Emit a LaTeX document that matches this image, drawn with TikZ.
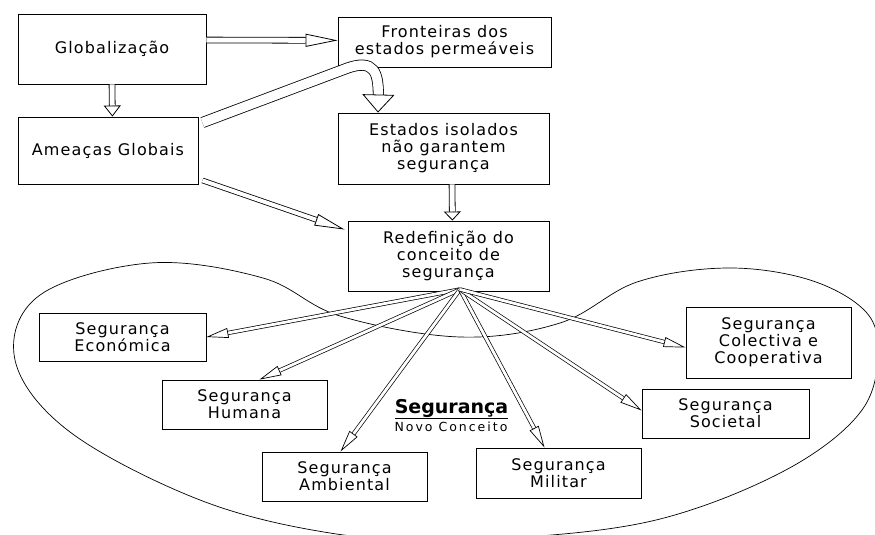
\documentclass[tikz,border=0pt]{standalone}
\usepackage{fontspec}
\setmainfont{DejaVu Sans}[LetterSpace=7]
\newfontfamily\ncfont{DejaVu Sans}[LetterSpace=16]
\newfontfamily\segfont{DejaVu Sans Bold}
\usetikzlibrary{arrows.meta}
\tikzset{
  box/.style={draw, line width=0.9pt, fill=white, inner sep=0pt, align=center,
    font=\fontsize{16}{17}\selectfont},
  dbl/.style={draw, line width=0.8pt, double=white, double distance=#1},
  blobline/.style={draw, line width=0.7pt},
}
\begin{document}
\begin{tikzpicture}[x=1pt,y=-1pt]
\useasboundingbox (0,0) rectangle (875,535);

% blob
\draw[blobline] plot[smooth cycle, tension=0.6] coordinates {
 (263,278) (340,316) (460,337) (560,323) (637,282) (727,268) (810,280)
 (866,312) (878,355) (862,410) (800,462) (700,507) (600,530) (450,540)
 (330,533) (200,500) (70,432) (15,360) (40,295) (150,263)};

% boxes
\node[box, minimum width=188pt, minimum height=70pt] (glob) at (112,49) {Globalização};
\node[box, minimum width=180pt, minimum height=67pt] (amea) at (108,150.5) {Ameaças Globais};
\node[box, minimum width=213pt, minimum height=50pt] (fron) at (444.5,42) {Fronteiras dos\\estados permeáveis};
\node[box, minimum width=211pt, minimum height=71pt] (esta) at (443.5,148.5) {Estados isolados\\não garantem\\segurança};
\node[box, minimum width=201pt, minimum height=70pt] (rede) at (448.5,256) {Redefinição do\\conceito de\\segurança};
\node[box, minimum width=167pt, minimum height=48pt] (econ) at (122.5,337) {Segurança\\Económica};
\node[box, minimum width=165pt, minimum height=49pt] (huma) at (244.5,404.5) {Segurança\\Humana};
\node[box, minimum width=165pt, minimum height=49pt] (ambi) at (344.5,476.5) {Segurança\\Ambiental};
\node[box, minimum width=165pt, minimum height=71pt] (cole) at (768.5,342.5) {Segurança\\Colectiva e\\Cooperativa};
\node[box, minimum width=167pt, minimum height=49pt] (soci) at (725.5,413.5) {Segurança\\Societal};
\node[box, minimum width=165pt, minimum height=50pt] (mili) at (558.5,473) {Segurança\\Militar};

\node[anchor=base, inner sep=0pt, font=\segfont\fontsize{19}{20}\selectfont] (seg) at (451.5,413) {\underline{Segurança}};
\node[anchor=base, inner sep=0pt, font=\ncfont\fontsize{12.5}{13}\selectfont] (novo) at (451,431) {Novo Conceito};

% top arrows
\draw[dbl=5pt, -{Triangle[length=32pt,width=13pt,fill=white,line width=0.8pt]}]
  ([yshift=9pt]glob.east) -- ([yshift=1.6pt]fron.west);
\draw[dbl=5pt, -{Triangle[length=11pt,width=17pt,fill=white,line width=0.8pt]}]
  (glob.south) -- ([xshift=0.4pt]glob.south |- amea.north);
\coordinate (cstart) at ([xshift=4pt,yshift=-6pt]amea.north east);
\coordinate (ctip) at ([xshift=-65.5pt]esta.north);
\draw[dbl=9.5pt, -{Triangle[length=18pt,width=32pt,fill=white,line width=0.8pt]}]
  (cstart) -- (345,69) .. controls (376,57) and (378,75) .. (378.4,95) -- (ctip);
\draw[dbl=5pt, -{Triangle[length=9pt,width=17pt,fill=white,line width=0.8pt]}]
  ([xshift=8.5pt]esta.south) -- ([xshift=8.9pt]esta.south |- rede.north);
\draw[dbl=4pt, -{Triangle[length=30pt,width=12pt,fill=white,line width=0.8pt]}]
  ([xshift=4pt,yshift=4pt]amea.south east) -- ([xshift=-3pt,yshift=-9pt]rede.north west);

% fan arrows
\coordinate (fan) at ([xshift=11.5pt,yshift=2pt]rede.south);
\tikzset{fanarrow/.style={draw, line width=0.7pt, double=white, double distance=2.8pt,
  -{Triangle[length=22pt,width=10pt,fill=white,line width=0.7pt]}}}
\draw[fanarrow] (fan) -- (econ.east);
\draw[fanarrow] (fan) -- ([xshift=15pt]huma.north);
\draw[fanarrow] (fan) -- ([xshift=-4pt]ambi.north);
\draw[fanarrow] (fan) -- ([xshift=-14pt]mili.north);
\draw[fanarrow] (fan) -- ([yshift=3pt]soci.west);
\draw[fanarrow] (fan) -- ([yshift=-5pt]cole.west);
\end{tikzpicture}
\end{document}
